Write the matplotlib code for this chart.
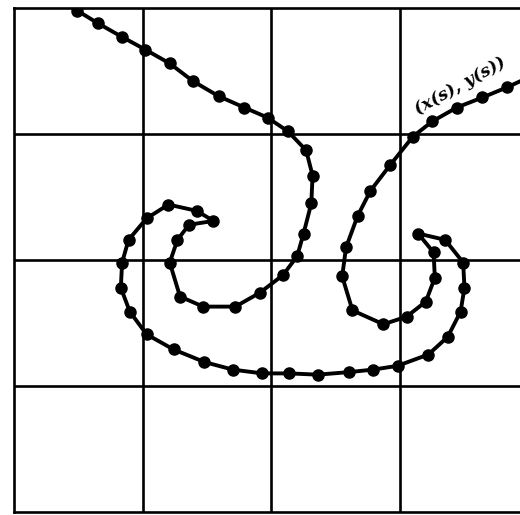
import matplotlib
matplotlib.use('Agg')
import matplotlib.pyplot as plt

# sample points along the curve (x(s), y(s)), in grid units (4 x 4 cells)
x_pts = [0.49, 0.65, 0.84, 1.02, 1.21, 1.39, 1.59, 1.79, 1.97, 2.13,
         2.27, 2.32, 2.31, 2.25, 2.20, 2.09, 1.91, 1.72, 1.47, 1.29,
         1.21, 1.27, 1.36, 1.55, 1.42, 1.20, 1.03, 0.89, 0.84, 0.83,
         0.90, 1.03, 1.24, 1.48, 1.70, 1.93, 2.14, 2.36, 2.60, 2.79,
         2.98, 3.22, 3.37, 3.47, 3.50, 3.49, 3.35, 3.14, 3.26, 3.27,
         3.20, 3.05, 2.87, 2.63, 2.55, 2.58, 2.67, 2.77, 2.92, 3.10,
         3.25, 3.44, 3.64, 3.83]
y_pts = [3.98, 3.88, 3.77, 3.67, 3.56, 3.42, 3.30, 3.21, 3.13, 3.02,
         2.87, 2.67, 2.45, 2.21, 2.03, 1.88, 1.74, 1.63, 1.63, 1.71,
         1.98, 2.16, 2.28, 2.31, 2.39, 2.44, 2.33, 2.16, 1.98, 1.78,
         1.59, 1.41, 1.29, 1.19, 1.13, 1.10, 1.10, 1.09, 1.11, 1.13,
         1.16, 1.25, 1.39, 1.59, 1.78, 1.98, 2.16, 2.21, 2.06, 1.86,
         1.67, 1.55, 1.49, 1.60, 1.87, 2.10, 2.35, 2.55, 2.75, 2.98,
         3.10, 3.21, 3.29, 3.37]
# the curve runs on past the last dot, out of the frame
x_tail = [3.83, 4.00]
y_tail = [3.37, 3.45]

label = '(x(s), y(s))'
label_xy = (3.47, 3.38)

fig = plt.figure(figsize=(5.2, 5.15), dpi=100)
ax = fig.add_axes([14/520, 3/515, 514.8/520, 504/515])
ax.set_xlim(0, 4)
ax.set_ylim(0, 4)

for v in [1, 2, 3]:
    ax.axvline(v, color='black', lw=1.9, zorder=1)
    ax.axhline(v, color='black', lw=1.9, zorder=1)
for sp in ax.spines.values():
    sp.set_linewidth(1.9)

ax.plot(x_pts, y_pts, color='black', lw=2.8, marker='o', ms=8, zorder=3,
        solid_capstyle='round', solid_joinstyle='round')
ax.plot(x_tail, y_tail, color='black', lw=2.8, zorder=3)

ax.text(label_xy[0], label_xy[1], label, rotation=29, ha='center', va='center',
        fontsize=12.5, fontweight='bold', fontstyle='italic', family='DejaVu Serif', zorder=4)

ax.set_xticks([])
ax.set_yticks([])

fig.savefig('out.png', dpi=100, facecolor='white')
